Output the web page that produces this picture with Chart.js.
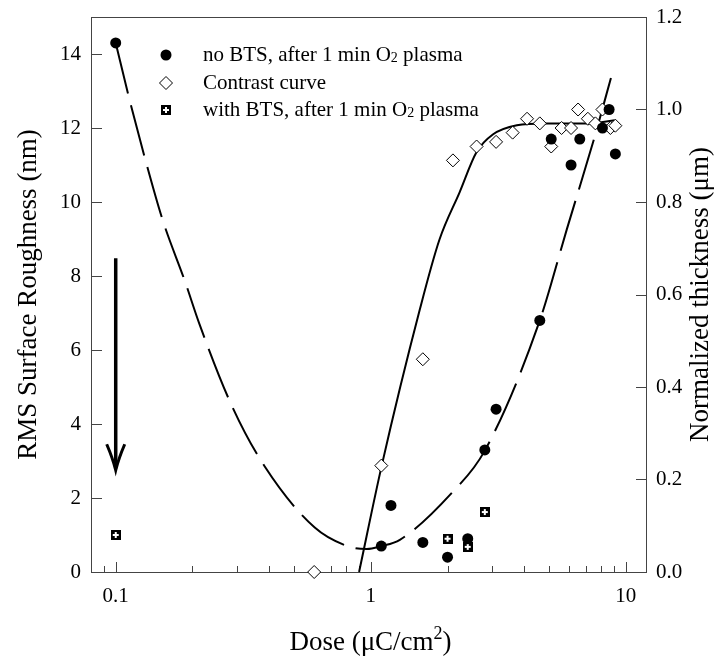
<!DOCTYPE html>
<html>
<head>
<meta charset="utf-8">
<script src="https://cdn.jsdelivr.net/npm/chart.js@4.4.0/dist/chart.umd.min.js"></script>
<style>
html, body { margin: 0; padding: 0; background: #fff; }
</style>
</head>
<body>
<canvas id="roughness" width="722" height="656"></canvas>
<script>
// values
const noBtsDose = [0.1, 1.1, 1.2, 1.6, 2.0, 2.4, 2.8, 3.1, 4.6, 5.1, 6.1, 6.6, 8.1, 8.6, 9.1];
const noBtsRms = [14.3, 0.7, 1.8, 0.8, 0.4, 0.9, 3.3, 4.4, 6.8, 11.7, 11.0, 11.7, 12.0, 12.5, 11.3];

const contrastDose = [0.6, 1.1, 1.6, 2.1, 2.6, 3.1, 3.6, 4.1, 4.6, 5.1, 5.6, 6.1, 6.5, 7.1, 7.6, 8.1, 8.7, 9.1];
const contrastThk = [0.0, 0.23, 0.46, 0.89, 0.92, 0.93, 0.95, 0.98, 0.97, 0.92, 0.96, 0.96, 1.0, 0.98, 0.97, 1.0, 0.96, 0.965];

const btsDose = [0.1, 2.0, 2.4, 2.8];
const btsRms = [1.0, 0.9, 0.68, 1.62];

// dashed fit through the roughness data
const rmsFitDose = [0.1, 0.112, 0.13, 0.153, 0.187, 0.213, 0.285, 0.384, 0.603, 0.827, 0.964, 1.1, 1.3, 2.08, 2.8, 4.6, 5.87, 7.56, 8.83];
const rmsFitVal = [14.3, 12.9, 11.2, 9.5, 7.85, 6.7, 4.5, 2.85, 1.2, 0.68, 0.62, 0.70, 0.87, 2.14, 3.28, 6.8, 9.26, 11.78, 13.46];

// solid fit through the contrast curve
const thkFitDose = [0.9, 1.104, 1.556, 1.86, 2.23, 2.6, 3.01, 3.74, 4.81, 7.23, 9.05];
const thkFitVal = [0.0, 0.230, 0.567, 0.719, 0.821, 0.908, 0.946, 0.966, 0.970, 0.970, 0.977];

// the arrow at 0.1 dose
const arrowDose = [0.1, 0.1];
const arrowRms = [8.48, 2.75];

// ticks
const xMajorTicks = [0.1, 1, 10];
const xMinorTicks = [0.09, 0.2, 0.3, 0.4, 0.5, 0.6, 0.7, 0.8, 0.9, 2, 3, 4, 5, 6, 7, 8, 9];
const yLeftTicks = [0, 2, 4, 6, 8, 10, 12, 14];
const yRightTicks = [0, 0.2, 0.4, 0.6, 0.8, 1.0, 1.2];

const legendLabels = ['no BTS, after 1 min O', 'Contrast curve', 'with BTS, after 1 min O'];

const serif = 'Liberation Serif';
const zip = (xs, ys) => xs.map((x, i) => ({ x: x, y: ys[i] }));

// black square with white plus, used for the "with BTS" points
function plusSquare() {
    const c = document.createElement('canvas');
    c.width = 10; c.height = 10;
    const g = c.getContext('2d');
    g.fillStyle = '#000';
    g.fillRect(0, 0, 10, 10);
    g.fillStyle = '#fff';
    g.fillRect(4, 2, 2, 6);
    g.fillRect(2, 4, 6, 2);
    return c;
}
const plusImg = plusSquare();

// no extra room for the end labels, keep the plot box where the figure has it
function noPad(s) {
    s.paddingTop = 0; s.paddingBottom = 0;
    s.paddingLeft = 0; s.paddingRight = 0;
}

// text with a raised or lowered small "2"
function textWithTwo(ctx, before, after, x, y, size, shift) {
    ctx.font = size + 'px "' + serif + '"';
    const w1 = ctx.measureText(before).width;
    const small = Math.round(size * 0.68);
    ctx.font = small + 'px "' + serif + '"';
    const w2 = ctx.measureText('2').width;
    ctx.font = size + 'px "' + serif + '"';
    const w3 = ctx.measureText(after).width;
    let px = x;
    if (ctx.textAlign === 'center') px = x - (w1 + w2 + w3) / 2;
    ctx.save();
    ctx.textAlign = 'left';
    ctx.fillText(before, px, y);
    ctx.font = small + 'px "' + serif + '"';
    ctx.fillText('2', px + w1, y + shift);
    ctx.font = size + 'px "' + serif + '"';
    ctx.fillText(after, px + w1 + w2, y);
    ctx.restore();
}

//frame and inward ticks
const frameTicks = {
    id: 'frameTicks',
    beforeDatasetsDraw(chart) {
        const ctx = chart.ctx;
        const a = chart.chartArea;
        const sx = chart.scales.x, sy = chart.scales.y, sy2 = chart.scales.y2;
        ctx.save();
        ctx.strokeStyle = '#444';
        ctx.lineWidth = 1;
        ctx.strokeRect(a.left + 0.5, a.top + 0.5, a.right - a.left, a.bottom - a.top);
        ctx.beginPath();
        yLeftTicks.forEach(v => {
            const p = Math.round(sy.getPixelForValue(v)) + 0.5;
            ctx.moveTo(a.left, p); ctx.lineTo(a.left + 11, p);
        });
        yRightTicks.forEach(v => {
            const p = Math.round(sy2.getPixelForValue(v)) + 0.5;
            ctx.moveTo(a.right - 10, p); ctx.lineTo(a.right, p);
        });
        xMajorTicks.forEach(v => {
            const p = Math.round(sx.getPixelForValue(v)) + 0.5;
            ctx.moveTo(p, a.bottom); ctx.lineTo(p, a.bottom - 10);
        });
        xMinorTicks.forEach(v => {
            const p = Math.round(sx.getPixelForValue(v)) + 0.5;
            ctx.moveTo(p, a.bottom); ctx.lineTo(p, a.bottom - 6);
        });
        ctx.stroke();
        ctx.restore();
    },
    afterDraw(chart) {
        const ctx = chart.ctx;
        const a = chart.chartArea;
        const sx = chart.scales.x, sy = chart.scales.y;
        ctx.save();
        // arrow
        const ax = sx.getPixelForValue(arrowDose[0]);
        const top = sy.getPixelForValue(arrowRms[0]);
        const tip = sy.getPixelForValue(arrowRms[1]);
        ctx.strokeStyle = '#000';
        ctx.lineWidth = 3.5;
        ctx.beginPath();
        ctx.moveTo(ax, top); ctx.lineTo(ax, tip - 2);
        ctx.stroke();
        ctx.lineWidth = 3;
        ctx.beginPath();
        ctx.moveTo(ax - 9, tip - 26);
        ctx.quadraticCurveTo(ax - 3, tip - 12, ax, tip);
        ctx.quadraticCurveTo(ax + 3, tip - 12, ax + 9, tip - 26);
        ctx.stroke();

        // legend
        const lx = a.left + 75, tx = a.left + 112;
        const rows = [a.top + 38, a.top + 66, a.top + 93];
        ctx.fillStyle = '#000';
        ctx.beginPath();
        ctx.arc(lx, rows[0], 5.5, 0, Math.PI * 2);
        ctx.fill();
        ctx.lineWidth = 1;
        ctx.beginPath();
        ctx.moveTo(lx, rows[1] - 6.5); ctx.lineTo(lx + 6.5, rows[1]);
        ctx.lineTo(lx, rows[1] + 6.5); ctx.lineTo(lx - 6.5, rows[1]);
        ctx.closePath();
        ctx.stroke();
        ctx.drawImage(plusImg, lx - 5, rows[2] - 5);

        ctx.textBaseline = 'middle';
        ctx.textAlign = 'left';
        legendLabels.forEach((t, i) => {
            if (i === 1) {
                ctx.font = '21px "' + serif + '"';
                ctx.fillText(t, tx, rows[i]);
            } else {
                textWithTwo(ctx, t, ' plasma', tx, rows[i], 21, 3);
            }
        });

        // bottom axis title with raised 2
        ctx.textBaseline = 'alphabetic';
        ctx.textAlign = 'center';
        textWithTwo(ctx, 'Dose (\u03bcC/cm', ')', (a.left + a.right) / 2 + 2, 650, 27, -11);

        // right axis title, reading upward
        ctx.font = '27px "' + serif + '"';
        ctx.textBaseline = 'middle';
        ctx.translate(701, (a.top + a.bottom) / 2);
        ctx.rotate(-Math.PI / 2);
        ctx.fillText('Normalized thickness (\u03bcm)', 0, 0);
        ctx.restore();
    }
};

const ctx = document.getElementById('roughness').getContext('2d');
const chart = new Chart(ctx, {
    type: 'scatter',
    data: {
        datasets: [
            {
                label: 'no BTS, after 1 min O2 plasma',
                data: zip(noBtsDose, noBtsRms),
                yAxisID: 'y',
                pointStyle: 'circle',
                pointRadius: 5.5,
                pointBorderWidth: 0,
                backgroundColor: '#000',
                borderColor: '#000',
                clip: false
            },
            {
                label: 'Contrast curve',
                data: zip(contrastDose, contrastThk),
                yAxisID: 'y2',
                pointStyle: 'rectRot',
                pointRadius: 6.5,
                pointBorderWidth: 1,
                backgroundColor: '#fff',
                borderColor: '#000',
                clip: false
            },
            {
                label: 'with BTS, after 1 min O2 plasma',
                data: zip(btsDose, btsRms),
                yAxisID: 'y',
                pointStyle: plusImg,
                pointRadius: 5,
                clip: false
            },
            {
                label: 'roughness fit',
                data: zip(rmsFitDose, rmsFitVal),
                yAxisID: 'y',
                showLine: true,
                pointRadius: 0,
                borderColor: '#000',
                borderWidth: 2,
                borderDash: [52, 12],
                cubicInterpolationMode: 'monotone',
                clip: false
            },
            {
                label: 'contrast fit',
                data: zip(thkFitDose, thkFitVal),
                yAxisID: 'y2',
                showLine: true,
                pointRadius: 0,
                borderColor: '#000',
                borderWidth: 2,
                cubicInterpolationMode: 'monotone',
                clip: false
            }
        ]
    },
    options: {
        responsive: false,
        animation: false,
        devicePixelRatio: 1,
        layout: { padding: { top: 17, left: 0, right: 0, bottom: 0 } },
        plugins: {
            legend: { display: false },
            tooltip: { enabled: false }
        },
        scales: {
            x: {
                type: 'logarithmic',
                min: 0.08,
                max: 12,
                grid: { display: false, drawTicks: false },
                border: { display: false },
                afterBuildTicks: s => { s.ticks = xMajorTicks.map(v => ({ value: v })); },
                afterFit: s => { s.height = 84; noPad(s); },
                ticks: {
                    color: '#000',
                    font: { family: serif, size: 21 },
                    padding: 12,
                    maxRotation: 0,
                    callback: v => String(v)
                },
                title: { display: false }
            },
            y: {
                position: 'left',
                min: 0,
                max: 15,
                grid: { display: false, drawTicks: false },
                border: { display: false },
                afterBuildTicks: s => { s.ticks = yLeftTicks.map(v => ({ value: v })); },
                afterFit: s => { s.width = 91; noPad(s); },
                ticks: {
                    color: '#000',
                    font: { family: serif, size: 21 },
                    padding: 10,
                    callback: v => String(v)
                },
                title: {
                    display: true,
                    text: 'RMS Surface Roughness (nm)',
                    color: '#000',
                    font: { family: serif, size: 27 },
                    padding: { top: 13, bottom: 0 }
                }
            },
            y2: {
                position: 'right',
                min: 0,
                max: 1.2,
                grid: { display: false, drawTicks: false },
                border: { display: false },
                afterBuildTicks: s => { s.ticks = yRightTicks.map(v => ({ value: v })); },
                afterFit: s => { s.width = 76; noPad(s); },
                ticks: {
                    color: '#000',
                    font: { family: serif, size: 21 },
                    padding: 10,
                    callback: v => v.toFixed(1)
                }
            }
        }
    },
    plugins: [frameTicks]
});
</script>
</body>
</html>
